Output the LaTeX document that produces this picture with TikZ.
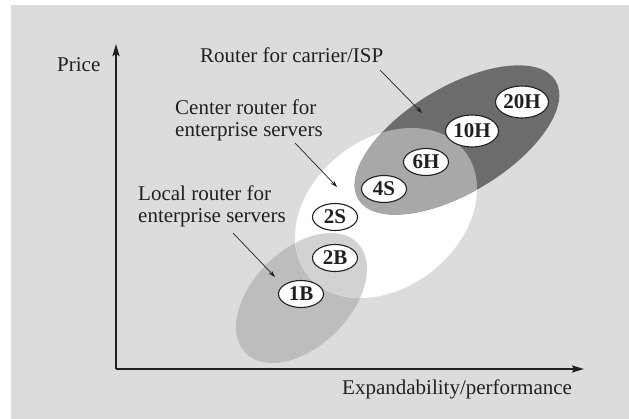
\documentclass[tikz,border=0pt]{standalone}
\usepackage{fontspec}
\setmainfont{Liberation Serif}
\usetikzlibrary{arrows.meta,shapes.geometric}
\definecolor{bg}{HTML}{DCDCDE}
\definecolor{darkg}{HTML}{6C6C6F}
\definecolor{midg}{HTML}{A8A8AB}
\definecolor{lightg}{HTML}{BDBDC0}
\definecolor{lightw}{HTML}{D2D2D4}
\definecolor{ink}{HTML}{231F20}
\begin{document}
\begin{tikzpicture}[x=1pt,y=-1pt,
  lbl/.style={font=\fontsize{21}{22}\selectfont, text=ink, inner sep=0, anchor=base west, align=left},
  badge/.style={ellipse, draw=ink, line width=1.1pt, fill=white, inner sep=0,
    font=\fontsize{21}{22}\selectfont\bfseries, text=ink, minimum width=45, minimum height=27},
  widebadge/.style={badge, minimum width=53, minimum height=32},
  axis/.style={line width=2pt, draw=ink, -{Stealth[length=12pt,width=7pt,inset=2pt]}},
  pointer/.style={line width=0.7pt, draw=ink, -{Stealth[length=7pt,width=4.5pt]}}]
\useasboundingbox (0,0) rectangle (629,419);
\fill[bg] (11,5) rectangle (629,419);
% local router ellipse
\fill[lightg, rotate around={44.5:(301.5,298)}] (301.5,298) ellipse [x radius=78.5, y radius=48.5];
% center router ellipse
\fill[white, rotate around={38.2:(386,213)}] (386,213) ellipse [x radius=100, y radius=74.2];
\begin{scope}
  \clip[rotate around={38.2:(386,213)}] (386,213) ellipse [x radius=100, y radius=74.2];
  \fill[lightw, rotate around={44.5:(301.5,298)}] (301.5,298) ellipse [x radius=78.5, y radius=48.5];
\end{scope}
% carrier ellipse
\fill[darkg, rotate around={31:(457,140)}] (457,140) ellipse [x radius=115, y radius=53];
\begin{scope}
  \clip[rotate around={38.2:(386,213)}] (386,213) ellipse [x radius=100, y radius=74.2];
  \fill[midg, rotate around={31:(457,140)}] (457,140) ellipse [x radius=115, y radius=53];
\end{scope}
% axes
\coordinate (origin) at (116,369);
\coordinate (ytip) at (116,44);
\coordinate (xtip) at (584,369);
\draw[axis] (origin) -- (ytip);
\draw[axis] (origin) -- (xtip);
\node[lbl] (price) at (57,72) {Price};
\node[lbl] (xlab) at (342,395) {Expandability/performance};
% labels (base anchor = baseline of the last line)
\node[lbl] (carrier) at (200,63) {Router for carrier/ISP};
\node[lbl] (center) at (175,137) {Center router for\\enterprise servers};
\node[lbl] (local) at (138,223) {Local router for\\enterprise servers};
% pointers
\coordinate (p1s) at (380,70);  \coordinate (p1e) at (422,113);
\coordinate (p2s) at (295,143); \coordinate (p2e) at (337,187);
\coordinate (p3s) at (233,233); \coordinate (p3e) at (275,277);
\draw[pointer] (p1s) -- (p1e);
\draw[pointer] (p2s) -- (p2e);
\draw[pointer] (p3s) -- (p3e);
% badges
\node[badge] (b1B) at (301,294) {1B};
\node[badge] (b2B) at (335,258) {2B};
\node[badge] (b2S) at (335,217) {2S};
\node[badge] (b4S) at (384,189) {4S};
\node[badge] (b6H) at (426,162) {6H};
\node[widebadge] (b10H) at (472,131) {10H};
\node[widebadge] (b20H) at (522,102) {20H};
\end{tikzpicture}
\end{document}
